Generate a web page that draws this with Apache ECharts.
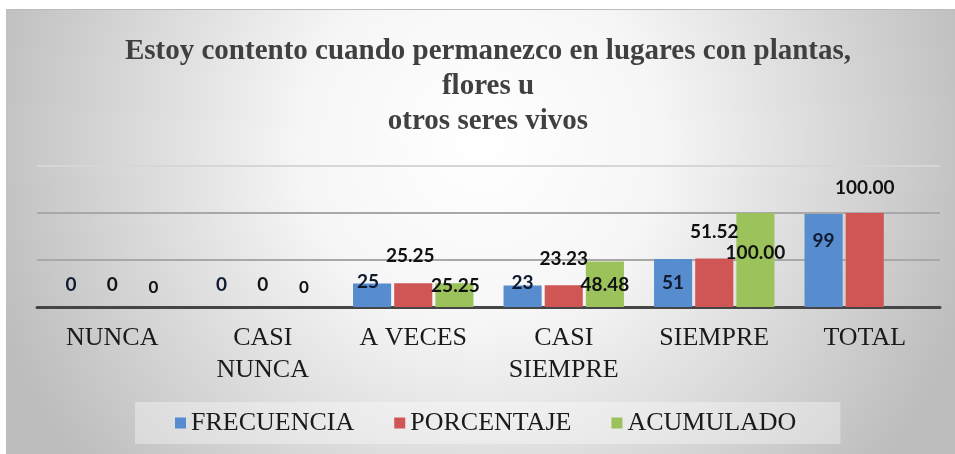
<!DOCTYPE html>
<html>
<head>
<meta charset="utf-8">
<script src="https://cdn.jsdelivr.net/npm/echarts@6/dist/echarts.min.js"></script>
<style>
  html, body { margin: 0; padding: 0; background: #ffffff; }
  #chart {
    position: absolute;
    left: 6px;
    top: 9px;
    width: 949px;
    height: 445px;
    border-top: 1px solid #bcbcbc;
  }
</style>
</head>
<body>
<div id="chart"></div>
<script>
// datos
const categories = ['NUNCA', 'CASI\nNUNCA', 'A VECES', 'CASI\nSIEMPRE', 'SIEMPRE', 'TOTAL'];
const frecuencia = [0, 0, 25, 23, 51, 99];
const porcentaje = [0, 0, 25.25, 23.23, 51.52, 100.00];
const acumulado = [0, 0, 25.25, 48.48, 100.00, null];

// desplazamiento de etiquetas (como en la hoja original)
const offFrec = [[0, -8], [0, -8], [-4, 13], [0, 12], [0, 38], [0, 41]];
const offPorc = [[0, -8], [0, -8], [-3, -13], [0, -12], [0, -12], [0, -11]];
const offAcum = [[0, -6], [0, -6], [1, 17], [0, 38], [0, 54], [0, 0]];

function withOffsets(values, offsets, extra) {
  return values.map(function (v, i) {
    if (v === null) return '-';
    var lab = { offset: offsets[i] };
    if (extra && v === 0) Object.assign(lab, extra);
    return { value: v, label: lab };
  });
}

function fmt2(p) {
  return p.value === 0 ? '0' : Number(p.value).toFixed(2);
}

var labelStyle = {
  show: true,
  position: 'top',
  distance: 5,
  fontFamily: 'Lato',
  fontWeight: 'bold',
  fontSize: 19,
  color: '#111111'
};

var chart = echarts.init(document.getElementById('chart'));

var option = {
  backgroundColor: {
    type: 'radial',
    x: 0.5,
    y: 0.3,
    r: 1.15,
    colorStops: [
      { offset: 0, color: '#ffffff' },
      { offset: 0.35, color: '#f6f6f6' },
      { offset: 1, color: '#bdbdbd' }
    ]
  },
  title: {
    text: 'Estoy contento cuando permanezco en lugares con plantas,\nflores u\notros seres vivos',
    left: 482,
    textAlign: 'center',
    top: 24,
    padding: 0,
    textStyle: {
      fontFamily: 'Liberation Serif',
      fontWeight: 'bold',
      fontSize: 29,
      lineHeight: 35,
      color: '#404040'
    }
  },
  legend: {
    data: ['FRECUENCIA', 'PORCENTAJE', 'ACUMULADO'],
    left: 129,
    top: 392,
    padding: [8, 44, 8, 40],
    backgroundColor: 'rgba(255,255,255,0.35)',
    itemGap: 40,
    itemWidth: 11,
    itemHeight: 11,
    icon: 'rect',
    textStyle: {
      fontFamily: 'Liberation Serif',
      fontSize: 26,
      color: '#1a1a1a'
    }
  },
  grid: {
    left: 31,
    right: 15,
    top: 156,
    bottom: 148
  },
  xAxis: {
    type: 'category',
    data: categories,
    axisTick: { show: false },
    axisLine: {
      lineStyle: { color: '#454545', width: 3 }
    },
    axisLabel: {
      interval: 0,
      margin: 15,
      fontFamily: 'Liberation Serif',
      fontSize: 26,
      lineHeight: 32,
      color: '#1a1a1a'
    }
  },
  yAxis: {
    type: 'value',
    min: 0,
    max: 150,
    interval: 50,
    axisLabel: { show: false },
    axisLine: { show: false },
    axisTick: { show: false },
    splitLine: {
      lineStyle: {
        color: ['#a8a8a8', '#a8a8a8', '#a8a8a8', '#d6d6d6'],
        width: 2
      }
    }
  },
  series: [
    {
      name: 'FRECUENCIA',
      type: 'bar',
      barGap: '8%',
      barCategoryGap: '20%',
      itemStyle: { color: '#578cce' },
      label: Object.assign({}, labelStyle, { color: '#101a30' }),
      data: withOffsets(frecuencia, offFrec)
    },
    {
      name: 'PORCENTAJE',
      type: 'bar',
      itemStyle: { color: '#d05656' },
      label: Object.assign({}, labelStyle, { formatter: fmt2 }),
      data: withOffsets(porcentaje, offPorc)
    },
    {
      name: 'ACUMULADO',
      type: 'bar',
      itemStyle: { color: '#9cc25b' },
      label: Object.assign({}, labelStyle, { formatter: fmt2 }),
      data: withOffsets(acumulado, offAcum, { fontSize: 17 })
    }
  ]
};

chart.setOption(option);
</script>
</body>
</html>
